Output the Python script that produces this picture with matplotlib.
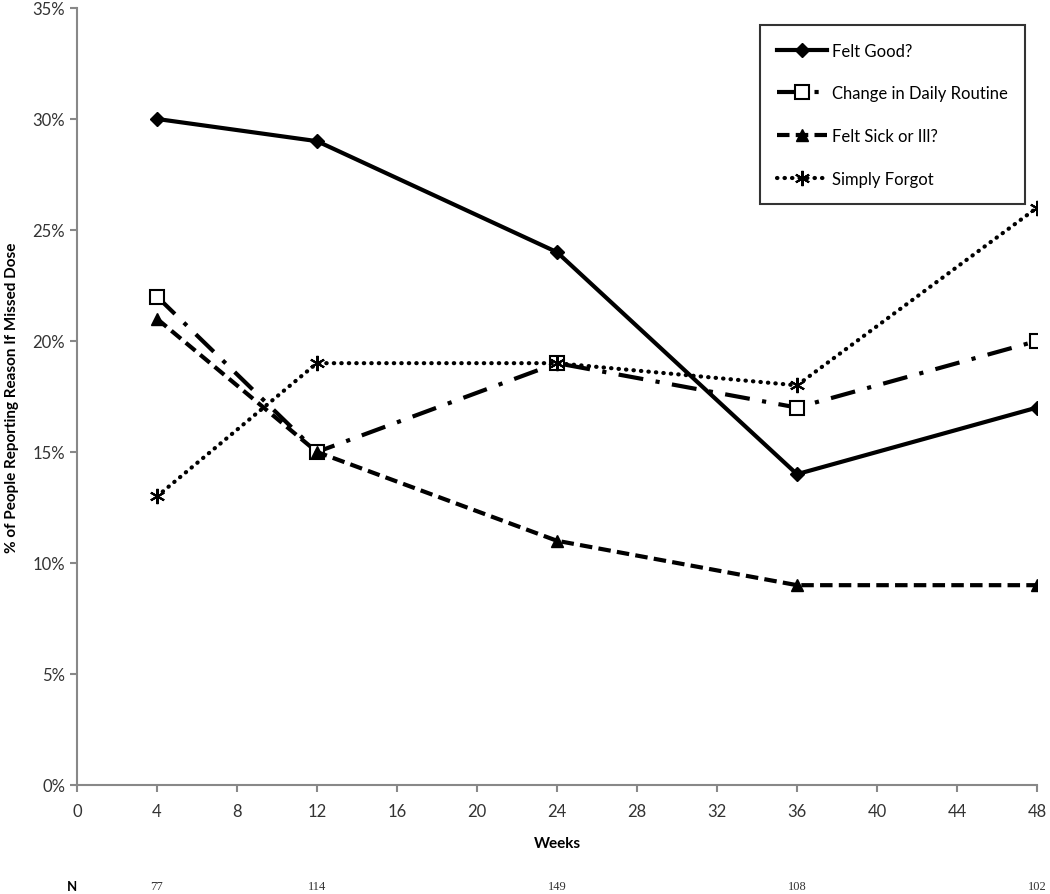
import matplotlib
matplotlib.use("Agg")
from matplotlib import pyplot as plt
from matplotlib.ticker import PercentFormatter

plt.rcParams['font.family'] = ['Lato', 'DejaVu Sans']

weeks = [4, 12, 24, 36, 48]
n_counts = [77, 114, 149, 108, 102]

felt_good = [30, 29, 24, 14, 17]
daily_routine = [22, 15, 19, 17, 20]
felt_sick = [21, 15, 11, 9, 9]
simply_forgot = [13, 19, 19, 18, 26]

fig = plt.figure(figsize=(10.5, 8.95), dpi=100)
ax = fig.add_axes([0.0733, 0.1218, 0.9143, 0.8682])

ax.plot(weeks, felt_good, color="black", lw=3, marker="D", ms=7, label="Felt Good?")
ax.plot(weeks, daily_routine, color="black", lw=3, marker="s", ms=10, mfc="white", mew=1.5,
        dashes=(6, 3, 1, 3), label="Change in Daily Routine")
ax.plot(weeks, felt_sick, color="black", lw=3, marker="^", ms=9, dashes=(3, 1.5),
        label="Felt Sick or Ill?")
ax.plot(weeks, simply_forgot, color="black", lw=3, marker=(6, 2, 0), ms=11, mew=1.5,
        linestyle=(0, (0.1, 1.7)), dash_capstyle="round", label="Simply Forgot")

ax.set_xlim(0, 48)
ax.set_ylim(0, 35)
ax.set_xticks(range(0, 49, 4))
ax.set_yticks(range(0, 36, 5))
ax.yaxis.set_major_formatter(PercentFormatter(decimals=0))
for s in ["top", "right"]:
    ax.spines[s].set_visible(False)
for s in ["left", "bottom"]:
    ax.spines[s].set_color("#888888")
    ax.spines[s].set_linewidth(1.5)
ax.tick_params(colors="#888888", width=1.5, length=5, labelcolor="#333333", labelsize=12)
ax.tick_params(axis="x", pad=8)

ax.set_xlabel("Weeks", fontsize=11, fontweight="bold", labelpad=12)
ax.set_ylabel("% of People Reporting Reason If Missed Dose", fontsize=11, fontweight="bold",
              labelpad=10)

leg = ax.legend(loc="upper left", bbox_to_anchor=(0.711, 0.978), fontsize=12, handlelength=3.0,
                labelspacing=1.6, borderpad=1.05, handletextpad=0.3, fancybox=False,
                edgecolor="black", borderaxespad=0)
leg.get_frame().set_linewidth(1.5)

fig.text(0.0686, 0.002, "N", fontsize=9.5, fontweight="bold", ha="center", va="bottom")
for w, n in zip(weeks, n_counts):
    fig.text(ax.transData.transform((w, 0))[0] / fig.bbox.width, 0.002, str(n),
             fontsize=9, family="Liberation Serif", ha="center", va="bottom", color="#333333")

fig.savefig("out.png", dpi=100)
